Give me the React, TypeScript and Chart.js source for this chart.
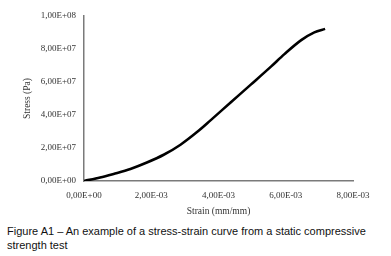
import React, { useEffect, useRef } from "react";
import { Chart, registerables } from "chart.js";

Chart.register(...registerables);

// Strain (mm/mm)
const strain: number[] = [
  0, 0.00048, 0.00088, 0.00138, 0.00187, 0.00237, 0.00287, 0.00337, 0.00377,
  0.00436, 0.00496, 0.00556, 0.00596, 0.00646, 0.00685, 0.00717,
];
// Stress (Pa)
const stress: number[] = [
  0, 2.1e6, 4.3e6, 7.3e6, 11.2e6, 15.9e6, 22.0e6, 29.8e6, 36.9e6, 47.6e6,
  58.4e6, 69.3e6, 76.9e6, 85.4e6, 90.1e6, 92.2e6,
];

const xTitle = "Strain (mm/mm)";
const yTitle = "Stress (Pa)";
const caption =
  "Figure A1 \u2013 An example of a stress-strain curve from a static compressive strength test";

function fmt(v: number): string {
  const s = Number(v).toExponential(2); // e.g. 2.00e-3
  const [mant, exp] = s.split("e");
  const sign = exp.startsWith("-") ? "-" : "+";
  const digits = exp.replace(/[+-]/, "").padStart(2, "0");
  return mant.replace(".", ",") + "E" + sign + digits;
}

const CANVAS_H = 222;

export default function App() {
  const ref = useRef<HTMLCanvasElement | null>(null);

  useEffect(() => {
    document.body.style.margin = "0";
    const canvas = ref.current;
    if (!canvas) return;
    const serif = "'Liberation Serif', 'Times New Roman', serif";
    const chart = new Chart(canvas, {
      type: "scatter",
      data: {
        datasets: [
          {
            data: strain.map((x, i) => ({ x, y: stress[i] })),
            showLine: true,
            borderColor: "#000000",
            borderWidth: 2.6,
            pointRadius: 0,
            cubicInterpolationMode: "monotone",
          },
        ],
      },
      options: {
        animation: false,
        responsive: false,
        maintainAspectRatio: false,
        layout: { padding: { left: 0, right: 38, top: 16, bottom: 0 } },
        plugins: {
          legend: { display: false },
          tooltip: { enabled: false },
        },
        scales: {
          x: {
            type: "linear",
            min: 0,
            max: 0.008,
            grid: { display: false, drawTicks: false },
            border: { display: true, color: "#7a7a7a", width: 1.5 },
            ticks: {
              stepSize: 0.002,
              padding: 9,
              color: "#333333",
              font: { family: serif, size: 9 },
              maxRotation: 0,
              callback: (v: any) => fmt(Number(v)),
            },
            title: {
              display: true,
              text: xTitle,
              color: "#333333",
              font: { family: serif, size: 9.5 },
              padding: { top: 0, bottom: 5 },
            },
            afterFit: (scale: any) => {
              scale.height = CANVAS_H - 181;
            },
          },
          y: {
            type: "linear",
            min: 0,
            max: 1e8,
            grid: { display: false, drawTicks: false },
            border: { display: true, color: "#7a7a7a", width: 1.5 },
            ticks: {
              stepSize: 2e7,
              padding: 8,
              color: "#333333",
              font: { family: serif, size: 9 },
              callback: (v: any) => fmt(Number(v)),
            },
            title: {
              display: true,
              text: yTitle,
              color: "#333333",
              font: { family: serif, size: 9.5 },
              padding: { top: 22, bottom: 0 },
            },
            afterFit: (scale: any) => {
              scale.width = 84;
            },
          },
        },
      },
    } as any);
    return () => chart.destroy();
  }, []);

  return (
    <div style={{ position: "relative", width: 391, height: 256, background: "#fff" }}>
      <canvas ref={ref} width={391} height={CANVAS_H} style={{ display: "block" }} />
      <div
        style={{
          position: "absolute",
          left: 7,
          top: 225,
          width: 380,
          fontFamily: "'Liberation Sans', Arial, sans-serif",
          fontSize: 11,
          lineHeight: "13.5px",
          color: "#111",
        }}
      >
        {caption}
      </div>
    </div>
  );
}
